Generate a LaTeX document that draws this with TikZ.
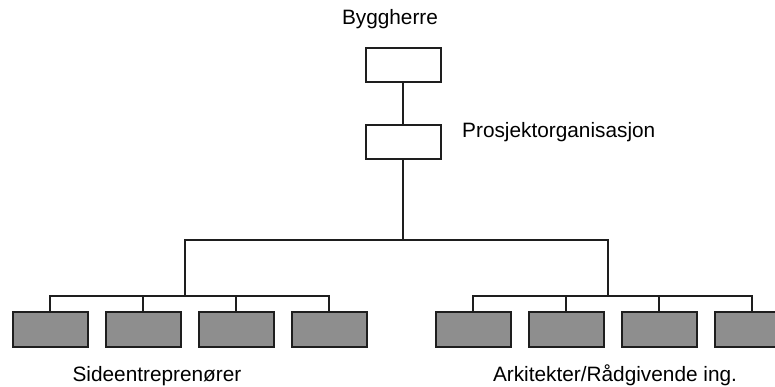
\documentclass[tikz,border=0pt]{standalone}
\usepackage{fontspec}
\setmainfont{Liberation Sans}
\usepackage{xcolor}
\usetikzlibrary{positioning}

\definecolor{linegray}{HTML}{1E1E1E}
\definecolor{boxgray}{HTML}{8E8E8E}

\begin{document}
\begin{tikzpicture}[
    x=1pt, y=1pt,
    node distance=16pt,
    topbox/.style={rectangle, draw=linegray, fill=white, line width=2pt, minimum width=75pt, minimum height=34pt, inner sep=0pt},
    subbox/.style={rectangle, draw=linegray, fill=boxgray, line width=2pt, minimum width=75pt, minimum height=35pt, inner sep=0pt},
    link/.style={draw=linegray, line width=1.7pt},
    lbl/.style={font=\fontsize{20.8}{24}\selectfont, text=black, inner sep=0pt}
  ]
    \useasboundingbox (0,0) rectangle (775,387);

    % Top of the organisation
    \node[topbox] (byggherre) at (403,322) {};
    \node[topbox, below=41pt of byggherre] (prosjekt) {};
    \node[lbl, anchor=base] (byggherre-lbl) at (390,362) {Byggherre};
    \node[lbl, anchor=base west] (prosjekt-lbl) at (462,249) {Prosjektorganisasjon};

    % Side contractors
    \node[subbox] (side1) at (50,57.5) {};
    \node[subbox, right=of side1] (side2) {};
    \node[subbox, right=of side2] (side3) {};
    \node[subbox, right=of side3] (side4) {};

    % Architects / consultants
    \node[subbox] (ark1) at (473,57.5) {};
    \node[subbox, right=of ark1] (ark2) {};
    \node[subbox, right=of ark2] (ark3) {};
    \node[subbox, right=of ark3] (ark4) {};

    % Group labels
    \node[lbl, anchor=base] (side-lbl) at (157,5.5) {Sideentreprenører};
    \node[lbl, anchor=base] (ark-lbl) at (615,5.5) {Arkitekter/Rådgivende ing.};

    % Branch points
    \coordinate (split-l) at (185,91);
    \coordinate (split-r) at (608,91);
    \coordinate (top-r) at (608,147);

    % Lines
    \draw[link] (byggherre) -- (prosjekt);
    \draw[link] (prosjekt.south) -- (prosjekt.south |- top-r);
    \draw[link] (split-l) |- (top-r) -- (split-r);

    \draw[link] (side1.north) |- (split-l) -| (side4.north);
    \draw[link] (ark1.north) |- (split-r) -| (ark4.north);
    \foreach \n in {side2, side3, ark2, ark3}
      \draw[link] (\n.north) -- (\n.north |- split-l);

  \end{tikzpicture}
\end{document}
